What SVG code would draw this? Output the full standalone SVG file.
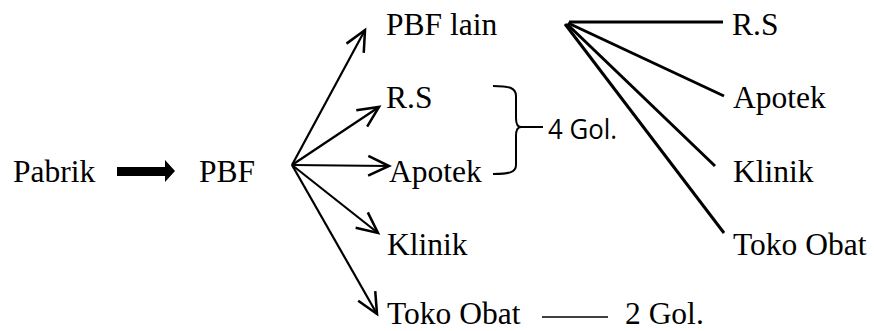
<svg xmlns="http://www.w3.org/2000/svg" width="874" height="331" viewBox="0 0 874 331">
<style>
  .t { font-family: "Liberation Serif", "Times New Roman", serif; font-size: 31.5px; fill: #000; }
  .s { font-family: "Open Sans", "Liberation Sans", sans-serif; font-size: 28px; fill: #000; }
  .a { stroke: #000; stroke-width: 2.2; fill: none; marker-end: url(#v); }
  .f { stroke: #000; stroke-width: 3; fill: none; }
</style>
<defs>
  <marker id="v" markerUnits="userSpaceOnUse" markerWidth="30" markerHeight="30" viewBox="-22 -12 26 24" refX="0" refY="0" orient="auto" overflow="visible">
    <path d="M-18,-8.5 L0,0 L-18,8.5" fill="none" stroke="#000" stroke-width="2.2"/>
  </marker>
</defs>
<rect width="874" height="331" fill="#fff"/>
<g id="connectors">
  <polygon points="117,167 165,167 165,160 175,171 165,182 165,176 117,176" fill="#000"/>
  <line class="a" x1="292" y1="165" x2="365" y2="30"/>
  <line class="a" x1="292" y1="165" x2="379" y2="107"/>
  <line class="a" x1="292" y1="165" x2="389" y2="166"/>
  <line class="a" x1="292" y1="165" x2="378" y2="233"/>
  <line class="a" x1="292" y1="165" x2="377" y2="314"/>
  <line class="f" x1="569" y1="22" x2="723" y2="22"/>
  <line class="f" x1="568" y1="23" x2="724" y2="96"/>
  <line class="f" x1="567" y1="24" x2="715" y2="166"/>
  <line class="f" x1="565" y1="24" x2="724" y2="233"/>
  <line x1="542" y1="317" x2="608" y2="317" stroke="#000" stroke-width="1.5"/>
  <path d="M493,86 C510,86 516,88 516,96 L516,118 C516,124 518,127 521,127 C518,127 516,130 516,136 L516,165 C516,172 510,174 493,174 M521,127 L543,127" fill="none" stroke="#000" stroke-width="2"/>
</g>
<g id="pabrik"><text class="t" x="13" y="182">Pabrik</text></g>
<g id="pbf"><text class="t" x="199" y="182">PBF</text></g>
<g id="pbf-lain"><text class="t" x="386" y="35">PBF lain</text></g>
<g id="rs"><text class="t" x="386" y="108">R.S</text></g>
<g id="apotek"><text class="t" x="389" y="182">Apotek</text></g>
<g id="klinik"><text class="t" x="387" y="255">Klinik</text></g>
<g id="toko-obat"><text class="t" x="387" y="324">Toko Obat</text></g>
<g id="rs2"><text class="t" x="732" y="35">R.S</text></g>
<g id="apotek2"><text class="t" x="733" y="108">Apotek</text></g>
<g id="klinik2"><text class="t" x="733" y="182">Klinik</text></g>
<g id="toko-obat2"><text class="t" x="733" y="255">Toko Obat</text></g>
<g id="gol4"><text class="s" x="548" y="139" textLength="69" lengthAdjust="spacingAndGlyphs">4 Gol.</text></g>
<g id="gol2"><text class="t" x="625" y="324">2 Gol.</text></g>
</svg>
